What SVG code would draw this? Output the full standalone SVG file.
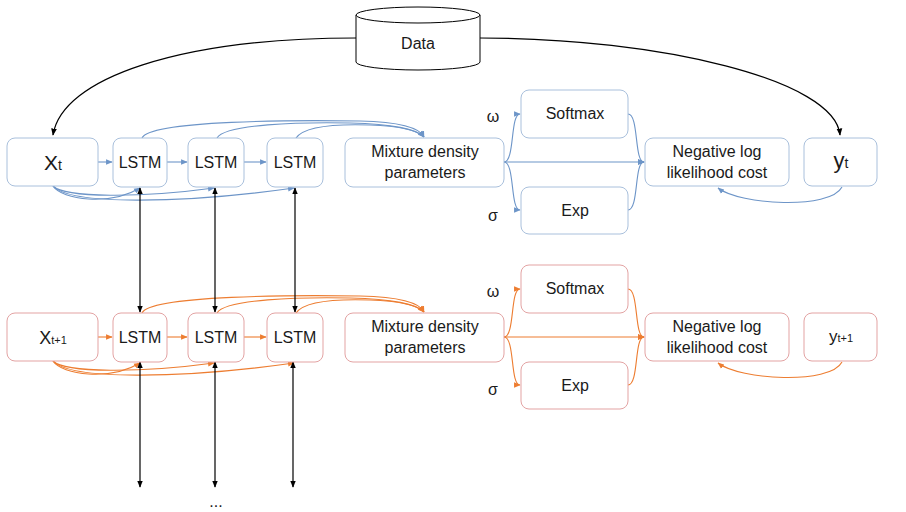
<svg xmlns="http://www.w3.org/2000/svg" width="906" height="512" viewBox="0 0 906 512">
<defs>
<style>
.bb{fill:#fff;stroke:#a9c0dc;stroke-width:1}
.ob{fill:#fff;stroke:#e3a3a3;stroke-width:1}
.t{font-family:"Liberation Sans",Arial,sans-serif;font-size:16px;fill:#1a1a1a;text-anchor:middle}
.bl{fill:none;stroke:#6d95c8;stroke-width:1.1}
.or{fill:none;stroke:#ed7d31;stroke-width:1.1}
.k{fill:none;stroke:#000;stroke-width:1.2}
</style>
<marker id="ab" viewBox="0 0 10 10" refX="9" refY="5" markerWidth="6" markerHeight="6" orient="auto-start-reverse"><path d="M0,1 L10,5 L0,9 z" fill="#6d95c8"/></marker>
<marker id="ao" viewBox="0 0 10 10" refX="9" refY="5" markerWidth="6" markerHeight="6" orient="auto-start-reverse"><path d="M0,1 L10,5 L0,9 z" fill="#ed7d31"/></marker>
<marker id="ak" viewBox="0 0 10 10" refX="9" refY="5" markerWidth="6" markerHeight="6" orient="auto-start-reverse"><path d="M0,1 L10,5 L0,9 z" fill="#000"/></marker>
</defs>
<rect width="906" height="512" fill="#fff"/>

<g id="connectors">
<!-- data curves -->
<path class="k" d="M356,38 C180,38 62,78 53,135" marker-end="url(#ak)"/>
<path class="k" d="M480,38 C660,38 835,80 840,135" marker-end="url(#ak)"/>
<!-- top row -->
<path class="bl" d="M98,162 L112,162" marker-end="url(#ab)"/>
<path class="bl" d="M167,162 L187,162" marker-end="url(#ab)"/>
<path class="bl" d="M244,162 L266,162" marker-end="url(#ab)"/>
<path class="bl" d="M142,138 C150,120 300,120 360,121 C400,122 420,128 424,137" marker-end="url(#ab)"/>
<path class="bl" d="M217,138 C225,124 300,122 350,123 C395,124 418,130 424,137" marker-end="url(#ab)"/>
<path class="bl" d="M296,138 C305,125 340,124 370,125 C400,126 418,131 424,137" marker-end="url(#ab)"/>
<path class="bl" d="M53,186 C62,200 110,206 140,188" marker-end="url(#ab)"/>
<path class="bl" d="M53,186 C65,198 140,198 214,188" marker-end="url(#ab)"/>
<path class="bl" d="M53,186 C70,205 180,204 294,188" marker-end="url(#ab)"/>
<path class="bl" d="M504,162 C515,162 510,114 520,114" marker-end="url(#ab)"/>
<path class="bl" d="M504,162 C515,162 510,210 520,210" marker-end="url(#ab)"/>
<path class="bl" d="M504,162 L644,162" marker-end="url(#ab)"/>
<path class="bl" d="M628,114 C639,114 634,162 644,162" marker-end="url(#ab)"/>
<path class="bl" d="M628,210 C639,210 634,162 644,162" marker-end="url(#ab)"/>
<path class="bl" d="M842,187 C830,210 740,205 718,188" marker-end="url(#ab)"/>
<!-- bottom row -->
<path class="or" d="M98,337 L112,337" marker-end="url(#ao)"/>
<path class="or" d="M167,337 L187,337" marker-end="url(#ao)"/>
<path class="or" d="M244,337 L266,337" marker-end="url(#ao)"/>
<path class="or" d="M142,313 C150,295 300,295 360,296 C400,297 420,303 424,312" marker-end="url(#ao)"/>
<path class="or" d="M217,313 C225,299 300,297 350,298 C395,299 418,305 424,312" marker-end="url(#ao)"/>
<path class="or" d="M296,313 C305,300 340,299 370,300 C400,301 418,306 424,312" marker-end="url(#ao)"/>
<path class="or" d="M53,361 C62,375 110,381 140,363" marker-end="url(#ao)"/>
<path class="or" d="M53,361 C65,373 140,373 214,363" marker-end="url(#ao)"/>
<path class="or" d="M53,361 C70,380 180,379 294,363" marker-end="url(#ao)"/>
<path class="or" d="M504,337 C515,337 510,289 520,289" marker-end="url(#ao)"/>
<path class="or" d="M504,337 C515,337 510,385 520,385" marker-end="url(#ao)"/>
<path class="or" d="M504,337 L644,337" marker-end="url(#ao)"/>
<path class="or" d="M628,289 C639,289 634,337 644,337" marker-end="url(#ao)"/>
<path class="or" d="M628,385 C639,385 634,337 644,337" marker-end="url(#ao)"/>
<path class="or" d="M842,362 C830,385 740,380 718,363" marker-end="url(#ao)"/>
<!-- vertical black -->
<path class="k" d="M140,188 L140,312" marker-start="url(#ak)" marker-end="url(#ak)"/>
<path class="k" d="M215,188 L215,312" marker-start="url(#ak)" marker-end="url(#ak)"/>
<path class="k" d="M295,188 L295,312" marker-start="url(#ak)" marker-end="url(#ak)"/>
<path class="k" d="M140,362 L140,487" marker-start="url(#ak)" marker-end="url(#ak)"/>
<path class="k" d="M215,362 L215,487" marker-start="url(#ak)" marker-end="url(#ak)"/>
<path class="k" d="M293,362 L293,487" marker-start="url(#ak)" marker-end="url(#ak)"/>
</g>

<g id="data">
<path d="M356,15 L356,62 A62,8 0 0 0 480,62 L480,15" fill="#fff" stroke="#000" stroke-width="1"/>
<ellipse cx="418" cy="15" rx="62" ry="8" fill="#fff" stroke="#000" stroke-width="1"/>
<text class="t" x="418" y="49">Data</text>
</g>

<g id="xt"><rect class="bb" x="7" y="138" width="91" height="48" rx="8"/><text class="t" x="53" y="170" style="font-size:21px">X<tspan style="font-size:14px">t</tspan></text></g>
<g id="lstm1"><rect class="bb" x="113" y="138" width="54" height="49" rx="8"/><text class="t" x="140" y="168">LSTM</text></g>
<g id="lstm2"><rect class="bb" x="188" y="138" width="56" height="49" rx="8"/><text class="t" x="216" y="168">LSTM</text></g>
<g id="lstm3"><rect class="bb" x="267" y="138" width="56" height="49" rx="8"/><text class="t" x="295" y="168">LSTM</text></g>
<g id="mix"><rect class="bb" x="345" y="138" width="159" height="49" rx="8"/><text class="t" x="425" y="157">Mixture density</text><text class="t" x="425" y="178">parameters</text></g>
<g id="softmax"><rect class="bb" x="521" y="90" width="107" height="48" rx="8"/><text class="t" x="575" y="119">Softmax</text></g>
<g id="exp"><rect class="bb" x="521" y="187" width="107" height="47" rx="8"/><text class="t" x="575" y="216">Exp</text></g>
<g id="nll"><rect class="bb" x="645" y="138" width="144" height="48" rx="8"/><text class="t" x="717" y="157">Negative log</text><text class="t" x="717" y="178">likelihood cost</text></g>
<g id="yt"><rect class="bb" x="804" y="138" width="73" height="48" rx="8"/><text class="t" x="841" y="168" style="font-size:22px">y<tspan style="font-size:14px">t</tspan></text></g>
<text class="t" x="493" y="122">ω</text>
<text class="t" x="493" y="221">σ</text>

<g id="xt1"><rect class="ob" x="7" y="313" width="91" height="48" rx="8"/><text class="t" x="53" y="344" style="font-size:18px">X<tspan style="font-size:11px">t+1</tspan></text></g>
<g id="lstm4"><rect class="ob" x="113" y="313" width="54" height="49" rx="8"/><text class="t" x="140" y="343">LSTM</text></g>
<g id="lstm5"><rect class="ob" x="188" y="313" width="56" height="49" rx="8"/><text class="t" x="216" y="343">LSTM</text></g>
<g id="lstm6"><rect class="ob" x="267" y="313" width="56" height="49" rx="8"/><text class="t" x="295" y="343">LSTM</text></g>
<g id="mix2"><rect class="ob" x="345" y="313" width="159" height="49" rx="8"/><text class="t" x="425" y="332">Mixture density</text><text class="t" x="425" y="353">parameters</text></g>
<g id="softmax2"><rect class="ob" x="521" y="265" width="107" height="48" rx="8"/><text class="t" x="575" y="294">Softmax</text></g>
<g id="exp2"><rect class="ob" x="521" y="362" width="107" height="47" rx="8"/><text class="t" x="575" y="391">Exp</text></g>
<g id="nll2"><rect class="ob" x="645" y="313" width="144" height="48" rx="8"/><text class="t" x="717" y="332">Negative log</text><text class="t" x="717" y="353">likelihood cost</text></g>
<g id="yt1"><rect class="ob" x="804" y="313" width="73" height="48" rx="8"/><text class="t" x="841" y="342" style="font-size:17px">y<tspan style="font-size:11px">t+1</tspan></text></g>
<text class="t" x="493" y="297">ω</text>
<text class="t" x="493" y="395">σ</text>

<text class="t" x="216" y="507">...</text>
</svg>
